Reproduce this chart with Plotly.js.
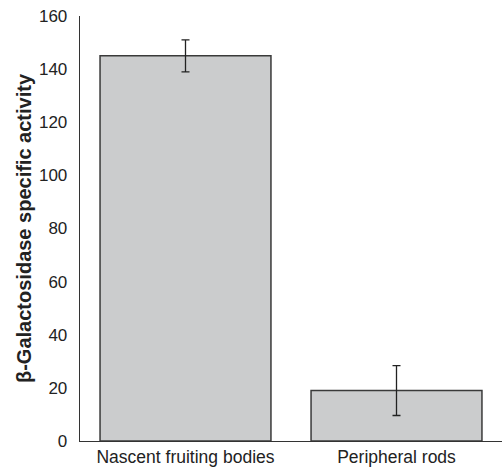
<!DOCTYPE html>
<html><head><meta charset="utf-8">
<script src="https://cdn.plot.ly/plotly-3.0.1.min.js"></script>
<style>html,body{margin:0;padding:0;background:#fff}</style>
</head><body>
<div id="chart" style="width:502px;height:470px"></div>
<script>
const categories = ["Nascent fruiting bodies", "Peripheral rods"];
const activity = [145, 19];
const errors = [6, 9.4];
const yTicks = [0, 20, 40, 60, 80, 100, 120, 140, 160];

Plotly.newPlot('chart', [{
  type: 'bar',
  x: categories,
  y: activity,
  marker: {color: '#cbcccd', line: {color: '#3a3a3a', width: 1.5}},
  error_y: {type: 'data', array: errors, visible: true, color: '#222', thickness: 1.3, width: 4}
}], {
  width: 502, height: 470,
  margin: {l: 80, r: 0, t: 16, b: 29},
  paper_bgcolor: '#fff', plot_bgcolor: '#fff',
  bargap: 0.19,
  showlegend: false,
  font: {family: 'Liberation Sans, Arial, sans-serif', color: '#222'},
  xaxis: {
    showline: true, linecolor: '#333', linewidth: 1.3,
    ticks: '', tickfont: {size: 17.5}, showgrid: false, zeroline: false
  },
  yaxis: {
    range: [0, 160], tickvals: yTicks, showline: true, linecolor: '#333', linewidth: 1.3,
    ticks: '', ticklabelstandoff: 8, tickfont: {size: 17}, showgrid: false, zeroline: false,
    title: {text: '<b>β-Galactosidase specific activity</b>', font: {size: 20}, standoff: 2}
  }
}, {displayModeBar: false, staticPlot: true});
</script>
</body></html>
